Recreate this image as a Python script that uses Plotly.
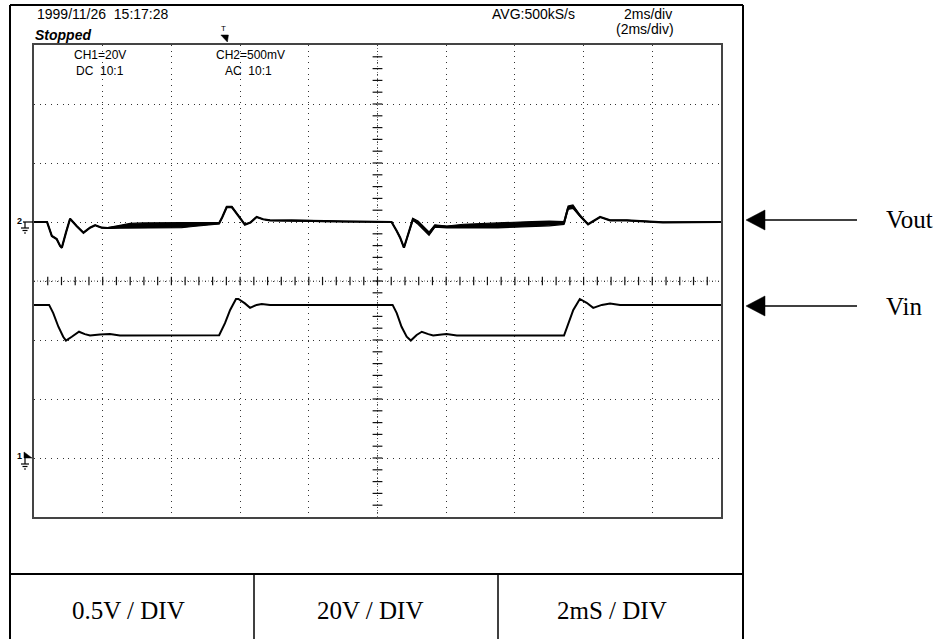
import plotly.graph_objects as go

W, H = 943, 639

# ---- Vin (CH1), time in ms, volts ----
vin_t = [0, 0.44, 0.56, 0.71, 0.85, 0.93, 1.10, 1.31, 1.48, 1.63, 1.92, 2.21, 2.50, 3.5, 4.5,
         5.39, 5.56, 5.71, 5.88, 5.95, 6.14, 6.29, 6.48, 6.63, 6.87, 8.0, 9.0,
         10.44, 10.56, 10.70, 10.85, 10.97, 11.14, 11.29, 11.48, 11.62, 11.87, 12.01, 12.31, 13.5, 14.5,
         15.43, 15.55, 15.70, 15.89, 16.09, 16.28, 16.53, 16.77, 17.06, 18.5, 20.0]
vin_v = [51.9, 51.9, 49.1, 44.5, 41.1, 39.8, 41.1, 42.8, 42.0, 41.5, 41.9, 42.0, 41.5, 41.6, 41.5,
         41.6, 45.7, 50.2, 53.9, 53.9, 52.4, 50.9, 51.9, 52.2, 51.9, 51.9, 51.9,
         51.9, 49.1, 44.5, 41.1, 39.8, 41.7, 42.8, 42.0, 41.5, 41.9, 42.0, 41.5, 41.6, 41.5,
         41.5, 45.7, 50.2, 53.9, 52.6, 50.9, 51.9, 52.4, 51.9, 51.9, 51.9]

# ---- Vout (CH2, AC coupled), time in ms, millivolts ----
vout_t = [0, 0.38, 0.52, 0.66, 0.76, 0.81, 0.93, 1.05, 1.24, 1.44, 1.63, 1.78, 1.97, 2.15,
          2.5, 2.8, 3.2, 3.6, 4.0, 4.3, 4.63, 5.0, 5.39, 5.48, 5.61, 5.76, 5.90, 6.14, 6.30,
          6.48, 6.67, 6.87, 7.5, 8.0, 8.5, 9.0, 9.5, 10.0, 10.41, 10.56, 10.66, 10.77, 10.89,
          11.03, 11.18, 11.33, 11.50, 11.67, 12.02, 12.5, 13.0, 13.5, 14.0, 14.5, 15.0, 15.43,
          15.49, 15.55, 15.69, 15.90, 16.13, 16.30, 16.48, 16.77, 17.26, 18.31, 19.0, 20.0]
vout_mv = [0, 0, -119, -144, -203, -218, -90, 28, -34, -91, -48, -28, -48, -51,
           -40, -32, -30, -30, -28, -28, -22, -15, -10, 40, 127, 127, 74, -22, -5,
           42, 23, 14, 12, 10, 6, 3, 0, 0, 0, -76, -133, -218, -102,
           23, -6, -48, -99, -34, -42, -35, -32, -28, -22, -18, -12, -8,
           60, 121, 130, 51, -19, 10, 42, 14, 14, -3, 0, 0]
# half-width of the noisy (thickened) part of the trace, mV
vout_noise = [0, 0, 0, 0, 0, 0, 0, 0, 0, 0, 0, 0, 0, 4,
              12, 20, 22, 22, 22, 20, 16, 12, 6, 0, 6, 6, 0, 0, 0,
              0, 0, 0, 4, 4, 4, 0, 0, 0, 0, 0, 0, 0, 0,
              8, 14, 16, 14, 10, 8, 16, 20, 22, 22, 22, 20, 12,
              8, 14, 14, 6, 0, 0, 0, 0, 0, 0, 0, 0]

# scope settings
TIME_DIV = 2        # ms/div
CH1_DIV = 20        # V/div
CH2_DIV = 500       # mV/div
N_X, N_Y = 10, 8
CH1_GND = 1         # ground position, divisions above the bottom edge
CH2_GND = 5
TRIG_T = 5.53       # trigger point, ms

header_left = ["1999/11/26\u00a0\u00a015:17:28"]
ch_labels = [("CH1=20V", "DC\u00a0\u00a010:1"), ("CH2=500mV", "AC\u00a0\u00a010:1")]
table_labels = ["0.5V / DIV", "20V / DIV", "2mS / DIV"]


def fx(p):
    return p / W


def fy(p):
    return 1 - p / H


L, R, T, B = 34, 721, 45, 517

vout_lo = [m - s for m, s in zip(vout_mv, vout_noise)]
vout_hi = [m + s for m, s in zip(vout_mv, vout_noise)]

fig = go.Figure()

# graticule centre ticks
ctr_v = (N_Y / 2 - CH1_GND) * CH1_DIV
tick_t = [i * TIME_DIV / 5 for i in range(1, N_X * 5)]
tick_v = [-CH1_GND * CH1_DIV + i * CH1_DIV / 5 for i in range(1, N_Y * 5)]
fig.add_trace(go.Scatter(x=tick_t, y=[ctr_v] * len(tick_t), mode="markers",
                         marker=dict(symbol="line-ns-open", size=6, color="#111",
                                     line=dict(color="#111", width=1.2)),
                         hoverinfo="skip", showlegend=False))
fig.add_trace(go.Scatter(x=[N_X * TIME_DIV / 2] * len(tick_v), y=tick_v, mode="markers",
                         marker=dict(symbol="line-ew-open", size=7, color="#111",
                                     line=dict(color="#111", width=1.2)),
                         hoverinfo="skip", showlegend=False))

# Vin
fig.add_trace(go.Scatter(x=vin_t, y=vin_v, mode="lines", name="Vin",
                         line=dict(color="black", width=2), showlegend=False))
# Vout noise envelope + trace
fig.add_trace(go.Scatter(x=vout_t, y=vout_lo, mode="lines", yaxis="y2",
                         line=dict(color="black", width=1.2), showlegend=False,
                         hoverinfo="skip"))
fig.add_trace(go.Scatter(x=vout_t, y=vout_hi, mode="lines", yaxis="y2", fill="tonexty",
                         fillcolor="black", line=dict(color="black", width=1.2),
                         showlegend=False, hoverinfo="skip"))
fig.add_trace(go.Scatter(x=vout_t, y=vout_mv, mode="lines", yaxis="y2", name="Vout",
                         line=dict(color="black", width=2.2), showlegend=False))

axis_common = dict(showticklabels=False, ticks="", zeroline=False, showline=True,
                   mirror=True, linecolor="#444", linewidth=1.5, showgrid=True,
                   gridcolor="#333", gridwidth=1, griddash="1px,4.7px", fixedrange=True)

fig.update_layout(
    width=W, height=H, margin=dict(l=0, r=0, t=0, b=0),
    paper_bgcolor="white", plot_bgcolor="white",
    xaxis=dict(domain=[fx(L), fx(R)], range=[0, N_X * TIME_DIV], dtick=TIME_DIV, tick0=0,
               **axis_common),
    yaxis=dict(domain=[fy(B), fy(T)],
               range=[-CH1_GND * CH1_DIV, (N_Y - CH1_GND) * CH1_DIV],
               dtick=CH1_DIV, tick0=0, **axis_common),
    yaxis2=dict(overlaying="y", range=[-CH2_GND * CH2_DIV, (N_Y - CH2_GND) * CH2_DIV],
                visible=False, fixedrange=True),
)

shapes = []
# centre cross lines of graticule
shapes.append(dict(type="line", xref="x", yref="y", x0=0, x1=N_X * TIME_DIV, y0=ctr_v, y1=ctr_v,
                   line=dict(color="#777", width=1, dash="1px,2px"), layer="below"))
shapes.append(dict(type="line", xref="x", yref="paper", x0=N_X * TIME_DIV / 2,
                   x1=N_X * TIME_DIV / 2, y0=fy(B), y1=fy(T),
                   line=dict(color="#777", width=1, dash="1px,2px"), layer="below"))


def pline(x0, y0, x1, y1, w=1.0, c="black"):
    shapes.append(dict(type="line", xref="paper", yref="paper", x0=fx(x0), y0=fy(y0),
                       x1=fx(x1), y1=fy(y1), line=dict(color=c, width=w)))


def ppath(pts, c="black"):
    d = "M " + " L ".join(f"{fx(a):.5f},{fy(b):.5f}" for a, b in pts) + " Z"
    shapes.append(dict(type="path", xref="paper", yref="paper", path=d,
                       fillcolor=c, line=dict(color=c, width=0.5)))


# outer frame and bottom table
pline(10, 5, 743, 5, 2)
pline(10, 5, 10, 640, 2)
pline(743, 5, 743, 640, 2)
pline(10, 574, 743, 574, 2)
pline(254, 574, 254, 640, 1.5)
pline(498, 574, 498, 640, 1.5)

# pointer arrows
for yy in (220, 306):
    pline(763, yy, 857, yy, 1.5)
    ppath([(746, yy), (765, yy - 10), (765, yy + 10)])

# channel ground markers
y2g = T + (N_Y - CH2_GND) * (B - T) / N_Y
pline(23, y2g, 33, y2g, 1.2)
pline(25, y2g, 25, y2g + 6, 1.2)
pline(21, y2g + 6, 29, y2g + 6, 1.2)
pline(22.5, y2g + 8.5, 27.5, y2g + 8.5, 1.2)
pline(24, y2g + 11, 26, y2g + 11, 1.2)
y1g = T + (N_Y - CH1_GND) * (B - T) / N_Y
ppath([(24, y1g - 6), (32, y1g), (24, y1g)])
pline(25, y1g, 25, y1g + 6, 1.2)
pline(21, y1g + 6, 29, y1g + 6, 1.2)
pline(22.5, y1g + 8.5, 27.5, y1g + 8.5, 1.2)
pline(24, y1g + 11, 26, y1g + 11, 1.2)

# trigger marker
shapes.append(dict(type="path", xref="x", yref="paper",
                   path=f"M {TRIG_T - 0.09},{fy(35)} L {TRIG_T + 0.13},{fy(35)} L {TRIG_T + 0.1},{fy(42)} Z",
                   fillcolor="black", line=dict(color="black", width=0.5)))
fig.update_layout(shapes=shapes)

ann = []
SANS = "Liberation Sans, Arial, sans-serif"
SERIF = "Liberation Serif, Times New Roman, serif"


def text(x, y, s, size=12, anchor="left", family=SANS, xref="paper"):
    ann.append(dict(x=fx(x) if xref == "paper" else x, y=fy(y), xref=xref, yref="paper",
                    text=s, showarrow=False, xanchor=anchor, yanchor="middle",
                    font=dict(family=family, size=size, color="black")))


text(35, 14, header_left[0], 14)
text(33, 35, "<b><i>Stopped</i></b>", 14)
text(490, 14, "AVG:500kS/s", 14)
text(622, 14, "2ms/div", 14)
text(614, 29, "(2ms/div)", 14)
text(100, 55, ch_labels[0][0], 12, "center")
text(100, 71, ch_labels[0][1], 12, "center")
text(250, 55, ch_labels[1][0], 12, "center")
text(248, 71, ch_labels[1][1], 12, "center")
text(TRIG_T, 29, "T", 8, "center", xref="x")
text(19, y2g - 1, "<b>2</b>", 9, "center")
text(19, y1g - 2, "<b>1</b>", 9, "center")

text(884, 220, "Vout", 25, family=SERIF)
text(884, 306, "Vin", 25, family=SERIF)
for cx, s in zip((128, 370, 612), table_labels):
    text(cx, 610, s, 25, "center", family=SERIF)

fig.update_layout(annotations=ann)
fig.write_html("out.html")
